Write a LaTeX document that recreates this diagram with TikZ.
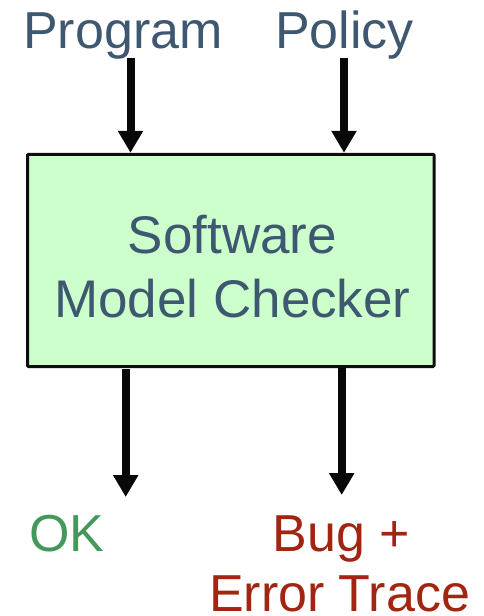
\documentclass[tikz,border=0pt]{standalone}
\usepackage{fontspec}
\setmainfont{Liberation Sans}
\usetikzlibrary{arrows.meta}
\definecolor{labelblue}{HTML}{3E5871}
\definecolor{okgreen}{HTML}{44995A}
\definecolor{bugred}{HTML}{A12511}
\definecolor{boxfill}{HTML}{CCFFCC}
\tikzset{
  lbl/.style={inner sep=0pt, font=\fontsize{52}{62}\selectfont},
  checker/.style={draw=black!95, fill=boxfill, line width=3pt, rounded corners=1pt,
    minimum width=406.5pt, minimum height=212.2pt, inner sep=0pt},
  flow/.style={line width=8pt, -{Triangle[width=24pt,length=22pt]}, black!97}
}
\begin{document}
\begin{tikzpicture}[x=1pt, y=-1pt]
\useasboundingbox (0,0) rectangle (483,616);

% inputs
\node[lbl, text=labelblue, anchor=base west] (prog) at (23,48) {Program};
\node[lbl, text=labelblue, anchor=base west] (pol) at (275,48) {Policy};

% the checker
\node[checker] (mc) at (230.75,260.4) {};
\node[lbl, text=labelblue, anchor=base, font=\fontsize{53}{64}\selectfont] (mc1) at (232.5,253) {Software};
\node[lbl, text=labelblue, anchor=base, font=\fontsize{53}{64}\selectfont] (mc2) at (232.5,317) {Model Checker};

% outputs
\node[lbl, text=okgreen, anchor=base west] (ok) at (29,551) {OK};
\node[lbl, text=bugred, anchor=base] (bug) at (341.5,551) {Bug +};
\node[lbl, text=bugred, anchor=base] (trace) at (339.5,611.5) {Error Trace};

% connector ends
\coordinate (inA) at (130.5,58);
\coordinate (inB) at (344,58);
\coordinate (outA0) at (125.7,369);
\coordinate (outA) at (125.7,497);
\coordinate (outB) at (341.7,495);

\draw[flow] (inA) -- (inA |- mc.north);
\draw[flow] (inB) -- (inB |- mc.north);
\draw[flow] (outA0) -- (outA);
\draw[flow] (outB |- mc.south) -- (outB);
\end{tikzpicture}
\end{document}
